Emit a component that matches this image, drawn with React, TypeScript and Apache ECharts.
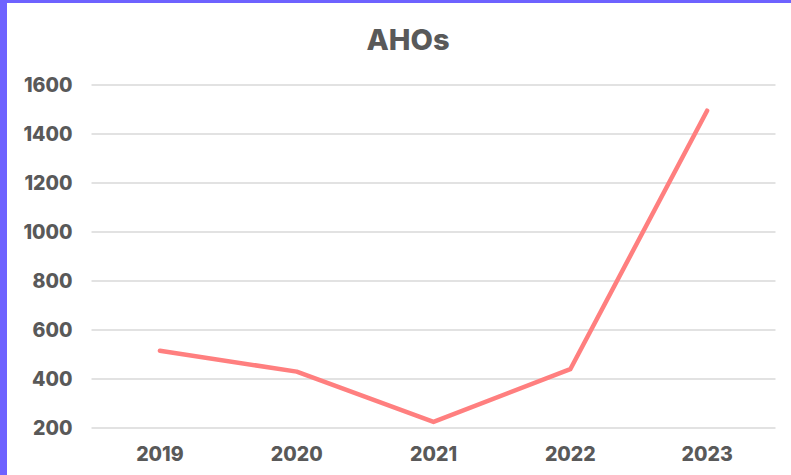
import React, { useEffect, useRef } from "react";
import * as echarts from "echarts";

const title = "AHOs";
const years = ["2019", "2020", "2021", "2022", "2023"];
const ahos = [515, 430, 225, 440, 1495];
const yMin = 200;
const yMax = 1600;
const yStep = 200;

export default function App() {
  const ref = useRef<HTMLDivElement>(null);
  useEffect(() => {
    if (!ref.current) return;
    const chart = echarts.init(ref.current, undefined, { renderer: "svg" });
    chart.setOption({
      animation: false,
      backgroundColor: "#6E62FF",
      graphic: [
        {
          type: "rect",
          shape: { x: 7, y: 3, width: 800, height: 480 },
          style: { fill: "#ffffff" },
          z: -10,
          silent: true,
        },
      ],
      title: {
        text: title,
        left: 403,
        textAlign: "center",
        top: 20,
        textStyle: {
          fontFamily: "Inter",
          fontWeight: 800,
          fontSize: 29,
          color: "#595959",
        },
      },
      grid: { left: 91.5, right: 15.5, top: 85, bottom: 47, containLabel: false },
      xAxis: {
        type: "category",
        data: years,
        boundaryGap: true,
        axisLine: { show: false },
        axisTick: { show: false },
        axisLabel: {
          color: "#595959",
          fontFamily: "Inter",
          fontWeight: 800,
          fontSize: 19.5,
          margin: 16,
        },
      },
      yAxis: {
        type: "value",
        min: yMin,
        max: yMax,
        interval: yStep,
        axisLine: { show: false },
        axisTick: { show: false },
        axisLabel: {
          color: "#595959",
          fontFamily: "Inter",
          fontWeight: 800,
          fontSize: 19.5,
          margin: 19,
          formatter: (v: number) => String(v),
        },
        splitLine: { lineStyle: { color: "#d9d9d9", width: 1.5 } },
      },
      series: [
        {
          type: "line",
          data: ahos,
          showSymbol: false,
          symbol: "none",
          lineStyle: { color: "#FF7F7F", width: 4.5, cap: "round", join: "round" },
        },
      ],
    });
    return () => chart.dispose();
  }, []);
  return (
    <div
      ref={ref}
      style={{ position: "absolute", left: 0, top: 0, width: 791, height: 475 }}
    />
  );
}
